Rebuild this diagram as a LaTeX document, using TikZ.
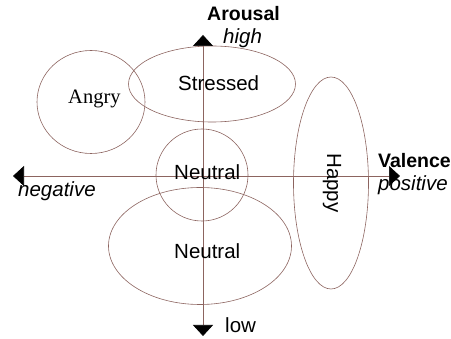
\documentclass[tikz,border=0pt]{standalone}
\usepackage{fontspec}
\setmainfont{Liberation Sans}
\newfontfamily\timesfont{Liberation Serif}
\usetikzlibrary{arrows.meta,shapes.geometric}
\definecolor{axisbrown}{RGB}{140,100,95}

\begin{document}
\begin{tikzpicture}[
  x=1pt,y=-1pt,
  every node/.style={font=\fontsize{20.5}{24}\selectfont,inner sep=0pt},
  zone/.style={draw=axisbrown,line width=0.6pt,ellipse,inner sep=0pt,
               minimum width=#1},
  lbl/.style={anchor=base west},
  axis/.style={draw=axisbrown,line width=0.6pt,
               {Triangle[length=11pt,width=20pt,black]}-{Triangle[length=11pt,width=20pt,black]}}
]
\useasboundingbox (0,0) rectangle (451,339);

% emotion regions
\node[zone=108pt,minimum height=103pt] (angry)    at (91,102)  {};
\node[zone=167pt,minimum height=76pt]  (stressed) at (212,84)  {};
\node[zone=92pt,minimum height=92pt]   (neutralc) at (202,175) {};
\node[zone=183pt,minimum height=117pt] (neutrale) at (200,246) {};
\node[zone=212pt,minimum height=75pt,rotate=-90] (happy) at (331,183) {};

% axes
\coordinate (atop) at (203,35);
\coordinate (abot) at (203,336);
\coordinate (vleft) at (13,176);
\coordinate (vright) at (400,176);
\draw[axis] (abot) -- (atop);
\draw[axis] (vleft) -- (vright);

% texts
\node[lbl,font=\fontsize{20.5}{24}\timesfont] (tangry) at (68,104) {Angry};
\node[lbl] (tstressed) at (178,91)  {Stressed};
\node[lbl] (tneutralc) at (174,180) {Neutral};
\node[lbl] (tneutrale) at (174,259) {Neutral};
\node[rotate=-90] (thappy) at (332,183) {Happy};

\node[lbl,font=\fontsize{19.5}{24}\selectfont\bfseries] (arousal) at (207,21) {Arousal};
\node[lbl,font=\fontsize{20.5}{24}\selectfont\itshape] (high) at (223,44) {high};
\node[lbl] (low) at (225,333) {low};
\node[lbl,font=\fontsize{20.5}{24}\selectfont\itshape] (negative) at (18,197) {negative};
\node[lbl,font=\fontsize{19.5}{24}\selectfont\bfseries] (valence) at (378,168) {Valence};
\node[lbl,font=\fontsize{20.5}{24}\selectfont\itshape] (positive) at (378,191) {positive};
\end{tikzpicture}
\end{document}
